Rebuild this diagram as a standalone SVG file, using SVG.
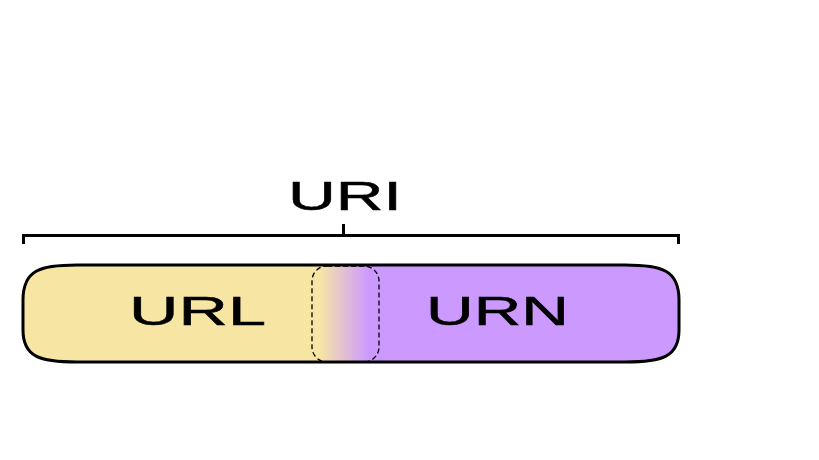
<svg xmlns="http://www.w3.org/2000/svg" width="819" height="460" viewBox="0 0 819 460">
<defs>
<linearGradient id="mix" x1="0" y1="0" x2="1" y2="0">
<stop offset="0.1" stop-color="#F7E6A3"/>
<stop offset="0.85" stop-color="#CC99FF"/>
</linearGradient>
<style>
.lbl{font-family:"Liberation Sans",Arial,sans-serif;font-size:41px;fill:#000;stroke:#000;stroke-width:0.5}
.br{fill:none;stroke:#000;stroke-width:3}
</style>
</defs>
<rect width="819" height="460" fill="#fff"/>
<g id="bracket">
<path class="br" d="M23.5 244 V235.5 H678.5 V244 M343.5 235.5 V224"/>
</g>
<g id="uri">
<text class="lbl" x="288" y="210" textLength="114" lengthAdjust="spacingAndGlyphs">URI</text>
</g>
<g id="bar">
<path d="M345 265 H625 C662 265 679 270 679 300 V330 C679 357 662 362 625 362 H345 Z" fill="#CC99FF"/>
<path d="M345 265 H77 C40 265 23 270 23 300 V330 C23 357 40 362 77 362 H345 Z" fill="#F7E6A3"/>
<rect x="312" y="266" width="67" height="96" rx="15" ry="15" fill="url(#mix)" stroke="#000" stroke-width="1.3" stroke-dasharray="5,3"/>
<path d="M77 265 H625 C662 265 679 270 679 300 V330 C679 357 662 362 625 362 H77 C40 362 23 357 23 330 V300 C23 270 40 265 77 265 Z" fill="none" stroke="#000" stroke-width="3"/>
</g>
<g id="url">
<text class="lbl" x="129" y="325" textLength="137" lengthAdjust="spacingAndGlyphs">URL</text>
</g>
<g id="urn">
<text class="lbl" x="426" y="325" textLength="143" lengthAdjust="spacingAndGlyphs">URN</text>
</g>
</svg>
